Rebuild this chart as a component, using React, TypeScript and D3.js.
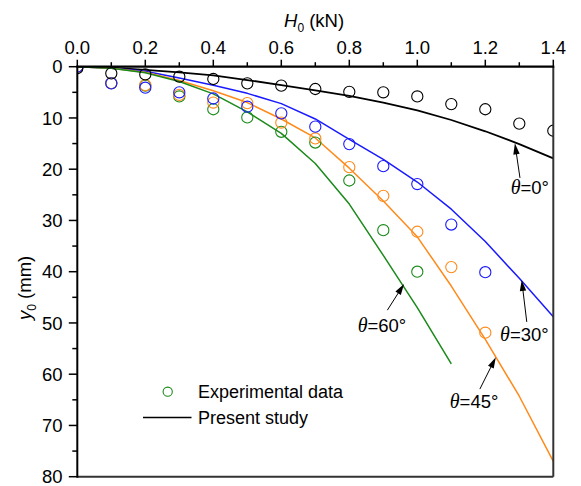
import React from "react";
import * as d3 from "d3";

const xAll = [0, 0.1, 0.2, 0.3, 0.4, 0.5, 0.6, 0.7, 0.8, 0.9, 1.0, 1.1, 1.2, 1.3, 1.4];

// Experimental data (y0 in mm)
const exp0 = [0.3, 1.3, 1.5, 1.95, 2.4, 3.25, 3.7, 4.35, 4.9, 5.0, 5.8, 7.3, 8.3, 11.1, 12.5];
const exp30 = [0, 3.25, 4.1, 5.0, 6.2, 7.8, 9.1, 11.7, 15.1, 19.4, 22.9, 30.8, 40.1];
const exp45 = [0, 3.2, 3.6, 5.5, 7.0, 7.1, 10.9, 14.0, 19.6, 25.2, 32.2, 39.1, 51.9];
const exp60 = [0, 3.2, 3.7, 5.8, 8.3, 9.9, 12.7, 14.8, 22.2, 31.9, 40.0];

// Present study curves
const line0 = [0, 0.2, 0.6, 1.1, 1.7, 2.6, 3.6, 4.6, 5.7, 7.0, 8.5, 10.4, 12.6, 15.1, 17.9];
const line30 = [0, 0.3, 0.9, 2.2, 3.6, 5.2, 7.2, 10.2, 14.2, 18.1, 22.5, 27.8, 34.1, 41.3, 48.8];
const line45 = [0, 0.3, 1.1, 2.7, 4.7, 7.0, 10.2, 13.9, 19.8, 26.2, 33.2, 42.8, 53.2, 64.3, 77.0];
const line60 = [0, 0.3, 1.2, 2.9, 5.3, 8.8, 13.0, 18.9, 26.8, 36.8, 47.0, 58.0];

const xTicksMajor = [0, 0.2, 0.4, 0.6, 0.8, 1.0, 1.2, 1.4];
const xTicksMinor = [0.1, 0.3, 0.5, 0.7, 0.9, 1.1, 1.3];
const yTicksMajor = [0, 10, 20, 30, 40, 50, 60, 70, 80];
const yTicksMinor = [5, 15, 25, 35, 45, 55, 65, 75];

const seriesColors = { t0: "#000000", t30: "#1a1aff", t45: "#ff8a1a", t60: "#1a8a1a" };

const annotations = [
  { label: "0°", tip: [1.287, 14.95], tail: [1.302, 21.7], text: [1.331, 24.9] },
  { label: "30°", tip: [1.307, 41.6], tail: [1.322, 49.8], text: [1.315, 53.5] },
  { label: "45°", tip: [1.231, 56.7], tail: [1.184, 62.9], text: [1.167, 66.6] },
  { label: "60°", tip: [0.961, 42.4], tail: [0.912, 47.5], text: [0.896, 51.7] },
];

const FONT = "'Liberation Sans', Arial, sans-serif";

export default function App() {
  const x = d3.scaleLinear().domain([0, 1.4]).range([77.3, 553.3]);
  const y = d3.scaleLinear().domain([0, 80]).range([66.7, 476.7]);

  const lineGen = d3
    .line<number>()
    .x((_, i) => x(xAll[i]))
    .y((d) => y(d));

  const curves = [
    { data: line0, color: seriesColors.t0, w: 1.8 },
    { data: line30, color: seriesColors.t30, w: 1.5 },
    { data: line45, color: seriesColors.t45, w: 1.5 },
    { data: line60, color: seriesColors.t60, w: 1.5 },
  ];
  const points = [
    { data: exp60, color: seriesColors.t60 },
    { data: exp45, color: seriesColors.t45 },
    { data: exp30, color: seriesColors.t30 },
    { data: exp0, color: seriesColors.t0 },
  ];

  const x0 = x(0), x1 = x(1.4), y0 = y(0), y1 = y(80);

  const arrowHead = (tip: number[], tail: number[]) => {
    const tx = x(tip[0]), ty = y(tip[1]);
    const sx = x(tail[0]), sy = y(tail[1]);
    const dx = tx - sx, dy = ty - sy;
    const len = Math.hypot(dx, dy);
    const ux = dx / len, uy = dy / len;
    const hl = 11, hw = 3.2;
    const bx = tx - ux * hl, by = ty - uy * hl;
    return {
      line: { x1: sx, y1: sy, x2: bx + ux * 2, y2: by + uy * 2 },
      head: `M${tx},${ty}L${bx - uy * hw},${by + ux * hw}L${bx + uy * hw},${by - ux * hw}Z`,
    };
  };

  return (
    <svg
      width={581}
      height={486}
      style={{ display: "block", position: "absolute", left: 0, top: 0 }}
      fontFamily={FONT}
    >
      <defs>
        <clipPath id="plotClip">
          <rect x={x0} y={y0} width={x1 - x0} height={y1 - y0} />
        </clipPath>
      </defs>
      <rect x={0} y={0} width={581} height={486} fill="#fff" />

      {/* curves */}
      <g clipPath="url(#plotClip)">
        {curves.map((c, i) => (
          <path key={i} d={lineGen(c.data) || ""} fill="none" stroke={c.color} strokeWidth={c.w} strokeLinejoin="round" />
        ))}
        {points.map((s, i) =>
          s.data.map((v, j) => (
            <circle key={`${i}-${j}`} cx={x(xAll[j])} cy={y(v)} r={5.6} fill="none" stroke={s.color} strokeWidth={1.1} />
          ))
        )}
      </g>

      {/* frame */}
      <line x1={x1} y1={y0} x2={x1} y2={y1} stroke="#333" strokeWidth={2} />
      <line x1={x0} y1={y1} x2={x1} y2={y1} stroke="#333" strokeWidth={2} />
      <line x1={x0 - 1} y1={y0} x2={x1 + 1} y2={y0} stroke="#000" strokeWidth={2.2} />
      <line x1={x0} y1={y0 - 1} x2={x0} y2={y1 + 1} stroke="#000" strokeWidth={2} />

      {/* top ticks */}
      {xTicksMajor.map((t) => (
        <g key={`xm${t}`}>
          <line x1={x(t)} x2={x(t)} y1={y0} y2={y0 - 7} stroke="#000" strokeWidth={1.5} />
          <text x={x(t)} y={54} textAnchor="middle" fontSize={18.5} fill="#000">
            {t.toFixed(1)}
          </text>
        </g>
      ))}
      {xTicksMinor.map((t) => (
        <line key={`xn${t}`} x1={x(t)} x2={x(t)} y1={y0} y2={y0 - 4.5} stroke="#000" strokeWidth={1.5} />
      ))}

      {/* left ticks */}
      {yTicksMajor.map((t) => (
        <g key={`ym${t}`}>
          <line x1={x0} x2={x0 - 8.5} y1={y(t)} y2={y(t)} stroke="#000" strokeWidth={1.5} />
          <text x={62.5} y={y(t) + 6.7} textAnchor="end" fontSize={18.5} fill="#000">
            {t}
          </text>
        </g>
      ))}
      {yTicksMinor.map((t) => (
        <line key={`yn${t}`} x1={x0} x2={x0 - 5} y1={y(t)} y2={y(t)} stroke="#000" strokeWidth={1.5} />
      ))}

      {/* axis titles */}
      <text x={284} y={26.7} fontSize={18.5} fill="#000">
        <tspan fontStyle="italic">H</tspan>
        <tspan fontSize={12} dy={5}>0</tspan>
        <tspan dy={-5}> (kN)</tspan>
      </text>
      <text transform="translate(31,320) rotate(-90)" fontSize={18.5} fill="#000">
        <tspan fontStyle="italic">y</tspan>
        <tspan fontSize={12} dy={5}>0</tspan>
        <tspan dy={-5}> (mm)</tspan>
      </text>

      {/* annotations */}
      {annotations.map((a, i) => {
        const ah = arrowHead(a.tip, a.tail);
        return (
          <g key={`an${i}`}>
            <line {...ah.line} stroke="#000" strokeWidth={1} />
            <path d={ah.head} fill="#000" />
            <text x={x(a.text[0])} y={y(a.text[1])} textAnchor="middle" fontSize={18.5} fill="#000">
              <tspan fontStyle="italic" fontFamily="'Liberation Serif', serif" fontSize={20}>θ</tspan>
              <tspan>={a.label}</tspan>
            </text>
          </g>
        );
      })}

      {/* legend */}
      <circle cx={167.7} cy={391.7} r={4.6} fill="none" stroke={seriesColors.t60} strokeWidth={1.1} />
      <text x={198} y={397.5} fontSize={18} fill="#000">Experimental data</text>
      <line x1={143} x2={191.5} y1={417.5} y2={417.5} stroke="#000" strokeWidth={1.5} />
      <text x={198} y={423.5} fontSize={18} fill="#000">Present study</text>
    </svg>
  );
}
